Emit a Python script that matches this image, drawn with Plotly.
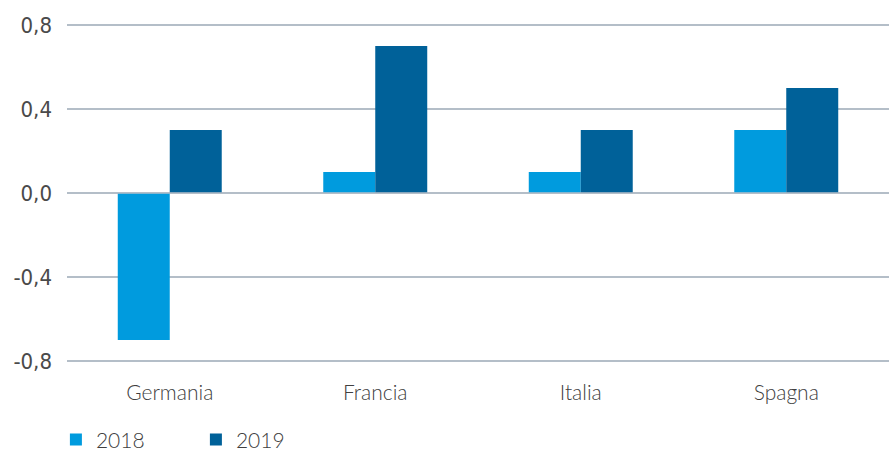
import plotly.graph_objects as go

categories = ["Germania", "Francia", "Italia", "Spagna"]
series_names = ["2018", "2019"]
values_2018 = [-0.7, 0.1, 0.1, 0.3]
values_2019 = [0.3, 0.7, 0.3, 0.5]
y_ticks = [-0.8, -0.4, 0.0, 0.4, 0.8]
y_ticktext = [f"{v:.1f}".replace(".", ",") for v in y_ticks]

COND = "Liberation Sans Narrow, DejaVu Sans Condensed, sans-serif"
HUM = "Lato, Open Sans, sans-serif"
GRID = "#B4BEC8"
TXT = "#404040"

fig = go.Figure()
fig.add_trace(go.Bar(name=series_names[0], x=categories, y=values_2018, marker_color="#009BDE", marker_line_width=0))
fig.add_trace(go.Bar(name=series_names[1], x=categories, y=values_2019, marker_color="#006199", marker_line_width=0))

fig.update_layout(
    width=893, height=451,
    margin=dict(l=67, r=4, t=24, b=89, autoexpand=False),
    paper_bgcolor="white", plot_bgcolor="white",
    barmode="group", bargap=0.494, bargroupgap=0,
    font=dict(family=HUM, color=TXT, size=20),
    showlegend=True,
    legend=dict(orientation="h", x=-0.0135, xanchor="left", yref="container", y=0.025, yanchor="middle",
                font=dict(family=HUM, size=21, color=TXT, weight=300), entrywidth=95, entrywidthmode="pixels",
                bgcolor="rgba(0,0,0,0)"),
)
fig.update_xaxes(showgrid=False, showline=False, ticks="", ticklabelstandoff=16,
                 tickfont=dict(family=HUM, size=21, color=TXT, weight=300))
fig.update_yaxes(range=[-0.805, 0.805], tickvals=y_ticks, ticktext=y_ticktext,
                 showgrid=True, gridcolor=GRID, gridwidth=1.5,
                 zeroline=False, ticks="", ticklabelstandoff=14,
                 tickfont=dict(family=COND, size=22, color="#4a4a4a"))
fig.add_shape(type="line", xref="paper", yref="y", x0=0, x1=1, y0=0, y1=0,
              line=dict(color=GRID, width=1.5), layer="above")

fig.write_html("out.html")
